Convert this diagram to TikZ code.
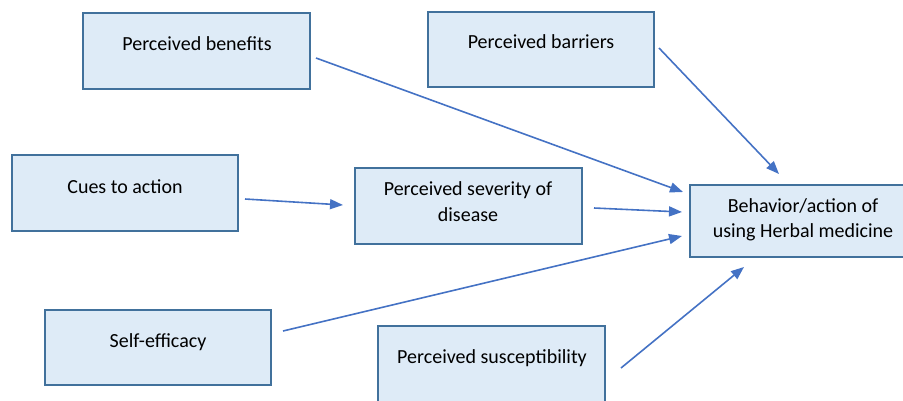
\documentclass[tikz,border=0pt]{standalone}
\usepackage{fontspec}
\setmainfont{Carlito}
\usetikzlibrary{arrows.meta}
\definecolor{boxfill}{HTML}{DEEBF7}
\definecolor{boxline}{HTML}{41719C}
\definecolor{arrowc}{HTML}{4472C4}
\begin{document}
\begin{tikzpicture}[x=1pt,y=-1pt,
  box/.style={draw=boxline,fill=boxfill,line width=1.4pt},
  lbl/.style={anchor=base,inner sep=0pt,font=\fontsize{20}{25}\selectfont,text=black,align=center},
  conn/.style={draw=arrowc,line width=1.6pt,-{Triangle[length=13pt,width=10pt]}}]
\useasboundingbox (0,0) rectangle (903,400);
\begin{scope}
\clip (0,0) rectangle (903,400);
\draw[box] (83,13) rectangle (310,89) node[pos=0.5,inner sep=0pt] (ben) {};
\draw[box] (428,12) rectangle (654,87) node[pos=0.5,inner sep=0pt] (bar) {};
\draw[box] (12,155) rectangle (238,231) node[pos=0.5,inner sep=0pt] (cue) {};
\draw[box] (355,168) rectangle (582,244) node[pos=0.5,inner sep=0pt] (sev) {};
\draw[box] (690,185) rectangle (910,257) node[pos=0.5,inner sep=0pt] (beh) {};
\draw[box] (45,310) rectangle (271,385) node[pos=0.5,inner sep=0pt] (self) {};
\draw[box] (378,326) rectangle (605,410) node[pos=0.5,inner sep=0pt] (sus) {};
\end{scope}
\node[lbl] (benT) at (197,50) {Perceived benefits};
\node[lbl] (barT) at (541,48) {Perceived barriers};
\node[lbl] (cueT) at (125,193) {Cues to action};
\node[lbl] (sevT1) at (468,195) {Perceived severity of};
\node[lbl] (sevT2) at (468,221) {disease};
\node[lbl] (behT1) at (803,212) {Behavior/action of};
\node[lbl] (behT2) at (803,237) {using Herbal medicine};
\node[lbl] (selfT) at (158,347) {Self-efficacy};
\node[lbl] (susT) at (492,363) {Perceived susceptibility};
\coordinate (ben-out) at (316,58);
\coordinate (beh-in1) at (683,192);
\coordinate (bar-out) at (659,48);
\coordinate (beh-in0) at (779,174);
\coordinate (cue-out) at (245,199);
\coordinate (sev-in) at (343,205);
\coordinate (sev-out) at (594,208);
\coordinate (beh-in2) at (682,212);
\coordinate (self-out) at (283,331);
\coordinate (beh-in3) at (682,236);
\coordinate (sus-out) at (621,368);
\coordinate (beh-in4) at (744,267);
\draw[conn] (ben-out) -- (beh-in1);
\draw[conn] (bar-out) -- (beh-in0);
\draw[conn] (cue-out) -- (sev-in);
\draw[conn] (sev-out) -- (beh-in2);
\draw[conn] (self-out) -- (beh-in3);
\draw[conn] (sus-out) -- (beh-in4);
\end{tikzpicture}
\end{document}
